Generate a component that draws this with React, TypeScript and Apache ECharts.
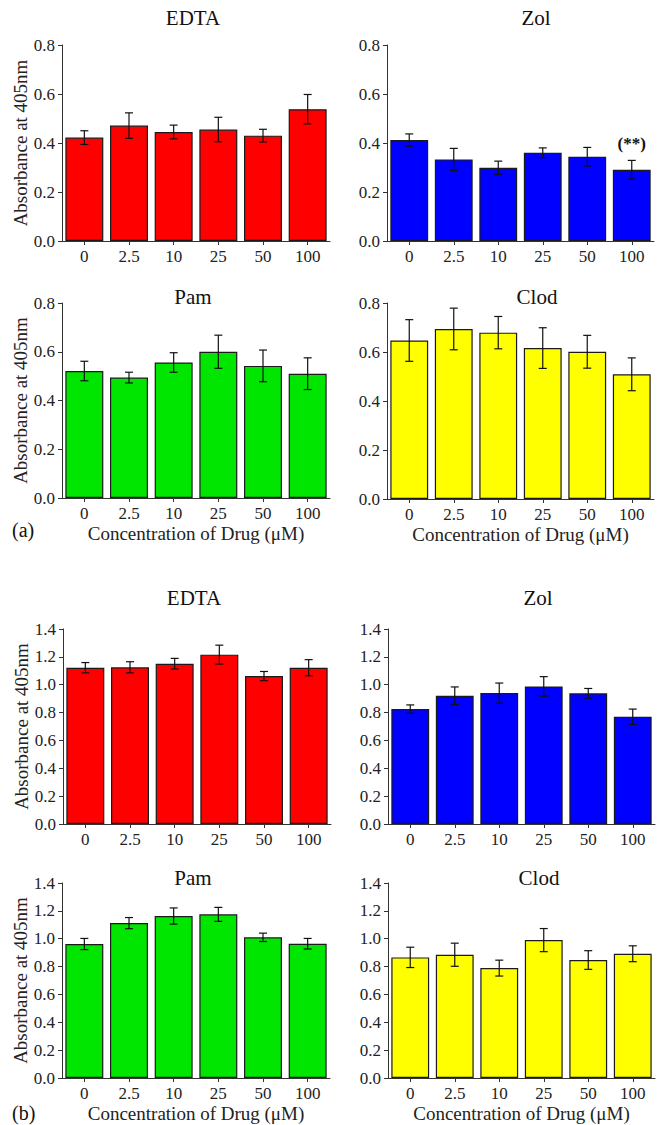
import React, { useEffect, useRef } from "react";
import * as echarts from "echarts";

const categories = ["0", "2.5", "10", "25", "50", "100"];

// (a) panels
const edtaA = [0.422, 0.471, 0.445, 0.455, 0.43, 0.538];
const edtaAErr = [0.028, 0.052, 0.028, 0.05, 0.026, 0.06];
const zolA = [0.412, 0.333, 0.299, 0.36, 0.344, 0.291];
const zolAErr = [0.025, 0.045, 0.027, 0.02, 0.038, 0.038];
const pamA = [0.521, 0.494, 0.556, 0.6, 0.542, 0.51];
const pamAErr = [0.04, 0.022, 0.04, 0.068, 0.065, 0.065];
const clodA = [0.647, 0.694, 0.679, 0.616, 0.601, 0.509];
const clodAErr = [0.085, 0.085, 0.066, 0.083, 0.067, 0.067];

// (b) panels
const edtaB = [1.122, 1.125, 1.151, 1.216, 1.062, 1.122];
const edtaBErr = [0.037, 0.04, 0.038, 0.068, 0.033, 0.058];
const zolB = [0.825, 0.921, 0.94, 0.988, 0.938, 0.77];
const zolBErr = [0.03, 0.063, 0.072, 0.07, 0.035, 0.055];
const pamB = [0.962, 1.112, 1.163, 1.175, 1.01, 0.964];
const pamBErr = [0.04, 0.04, 0.058, 0.05, 0.03, 0.038];
const clodB = [0.866, 0.885, 0.789, 0.99, 0.847, 0.892];
const clodBErr = [0.073, 0.083, 0.057, 0.083, 0.067, 0.057];

const yMaxA = 0.8;
const yMaxB = 1.4;
const yInterval = 0.2;

const FONT = "Liberation Serif";
const RED = "#ff0000";
const BLUE = "#0000ff";
const GREEN = "#00e600";
const YELLOW = "#ffff00";

type Panel = {
  title: string;
  values: number[];
  errors: number[];
  color: string;
  max: number;
  grid: { left: number; top: number; width: number; height: number };
  leftCol: boolean;
  bottomRow: boolean;
  titleX: number;
  titleY: number;
  sig?: { index: number; y: number; text: string };
};

const panels: Panel[] = [
  { title: "EDTA", values: edtaA, errors: edtaAErr, color: RED, max: yMaxA, grid: { left: 62, top: 45, width: 268, height: 196 }, leftCol: true, bottomRow: false, titleX: 193, titleY: 18 },
  { title: "Zol", values: zolA, errors: zolAErr, color: BLUE, max: yMaxA, grid: { left: 387, top: 45, width: 267, height: 196 }, leftCol: false, bottomRow: false, titleX: 536, titleY: 18, sig: { index: 5, y: 0.4, text: "(**)" } },
  { title: "Pam", values: pamA, errors: pamAErr, color: GREEN, max: yMaxA, grid: { left: 62, top: 303, width: 268, height: 195 }, leftCol: true, bottomRow: true, titleX: 193, titleY: 297 },
  { title: "Clod", values: clodA, errors: clodAErr, color: YELLOW, max: yMaxA, grid: { left: 387, top: 303, width: 267, height: 196 }, leftCol: false, bottomRow: true, titleX: 537, titleY: 297 },
  { title: "EDTA", values: edtaB, errors: edtaBErr, color: RED, max: yMaxB, grid: { left: 63, top: 629, width: 268, height: 195 }, leftCol: true, bottomRow: false, titleX: 194, titleY: 598 },
  { title: "Zol", values: zolB, errors: zolBErr, color: BLUE, max: yMaxB, grid: { left: 388, top: 629, width: 267, height: 195 }, leftCol: false, bottomRow: false, titleX: 538, titleY: 598 },
  { title: "Pam", values: pamB, errors: pamBErr, color: GREEN, max: yMaxB, grid: { left: 62, top: 883, width: 268, height: 195 }, leftCol: true, bottomRow: true, titleX: 193, titleY: 878 },
  { title: "Clod", values: clodB, errors: clodBErr, color: YELLOW, max: yMaxB, grid: { left: 388, top: 883, width: 267, height: 195 }, leftCol: false, bottomRow: true, titleX: 539, titleY: 878 },
];

function buildOption() {
  const grids: any[] = [];
  const xAxes: any[] = [];
  const yAxes: any[] = [];
  const series: any[] = [];
  const graphics: any[] = [];

  panels.forEach((p, i) => {
    grids.push({ ...p.grid, containLabel: false });
    xAxes.push({
      type: "category",
      gridIndex: i,
      data: categories,
      boundaryGap: true,
      axisLine: { show: true, lineStyle: { color: "#333", width: 1 } },
      axisTick: { show: true, alignWithLabel: true, length: 4, lineStyle: { color: "#333" } },
      axisLabel: { fontFamily: FONT, fontSize: 17, color: "#222", margin: 7 },
      splitLine: { show: false },
      name: p.bottomRow ? "Concentration of Drug (μM)" : "",
      nameLocation: "middle",
      nameGap: 26,
      nameTextStyle: { fontFamily: FONT, fontSize: 19, color: "#222" },
    });
    yAxes.push({
      type: "value",
      gridIndex: i,
      min: 0,
      max: p.max,
      interval: yInterval,
      axisLine: { show: true, lineStyle: { color: "#333", width: 1 } },
      axisTick: { show: true, inside: false, length: 4, lineStyle: { color: "#333" } },
      axisLabel: {
        fontFamily: FONT,
        fontSize: 17,
        color: "#222",
        margin: 7,
        formatter: (v: number) => v.toFixed(1),
      },
      splitLine: { show: false },
      name: p.leftCol ? "Absorbance at 405nm" : "",
      nameLocation: "middle",
      nameRotate: 90,
      nameGap: 31,
      nameTextStyle: { fontFamily: FONT, fontSize: 19, color: "#222" },
    });

    const bar: any = {
      type: "bar",
      xAxisIndex: i,
      yAxisIndex: i,
      data: p.values,
      barCategoryGap: "15%",
      itemStyle: { color: p.color, borderColor: "#1a1a1a", borderWidth: 1.2 },
      z: 2,
    };
    if (p.sig) {
      bar.markPoint = {
        symbol: "circle",
        symbolSize: 1,
        itemStyle: { color: "rgba(0,0,0,0)" },
        label: {
          show: true,
          position: "inside",
          formatter: p.sig.text,
          fontFamily: FONT,
          fontWeight: "bold",
          fontSize: 17,
          color: "#111",
        },
        data: [{ name: "sig", coord: [p.sig.index, p.sig.y] }],
      };
    }
    series.push(bar);

    series.push({
      type: "custom",
      xAxisIndex: i,
      yAxisIndex: i,
      z: 5,
      data: p.values.map((v, k) => [k, v - p.errors[k], v + p.errors[k]]),
      encode: { x: 0, y: [1, 2] },
      renderItem: (params: any, api: any) => {
        const xi = api.value(0);
        const lo = api.coord([xi, api.value(1)]);
        const hi = api.coord([xi, api.value(2)]);
        const half = 4;
        const style = { stroke: "#111", lineWidth: 1.2 };
        return {
          type: "group",
          children: [
            { type: "line", shape: { x1: hi[0], y1: hi[1], x2: lo[0], y2: lo[1] }, style },
            { type: "line", shape: { x1: hi[0] - half, y1: hi[1], x2: hi[0] + half, y2: hi[1] }, style },
            { type: "line", shape: { x1: lo[0] - half, y1: lo[1], x2: lo[0] + half, y2: lo[1] }, style },
          ],
        };
      },
    });

    graphics.push({
      type: "text",
      x: p.titleX,
      y: p.titleY,
      style: {
        text: p.title,
        fontFamily: FONT,
        fontSize: 21,
        fill: "#111",
        align: "center",
        verticalAlign: "middle",
      },
    });
  });

  graphics.push({
    type: "text",
    x: 12,
    y: 530,
    style: { text: "(a)", fontFamily: FONT, fontSize: 20, fill: "#111", align: "left", verticalAlign: "middle" },
  });
  graphics.push({
    type: "text",
    x: 12,
    y: 1113,
    style: { text: "(b)", fontFamily: FONT, fontSize: 20, fill: "#111", align: "left", verticalAlign: "middle" },
  });

  return {
    animation: false,
    backgroundColor: "#ffffff",
    grid: grids,
    xAxis: xAxes,
    yAxis: yAxes,
    series,
    graphic: graphics,
  };
}

export default function App() {
  const ref = useRef<HTMLDivElement>(null);
  useEffect(() => {
    document.body.style.margin = "0";
    if (!ref.current) return;
    const chart = echarts.init(ref.current, undefined, { renderer: "svg" });
    chart.setOption(buildOption() as any);
    return () => {
      chart.dispose();
    };
  }, []);
  return <div ref={ref} style={{ width: 658, height: 1125 }} />;
}
